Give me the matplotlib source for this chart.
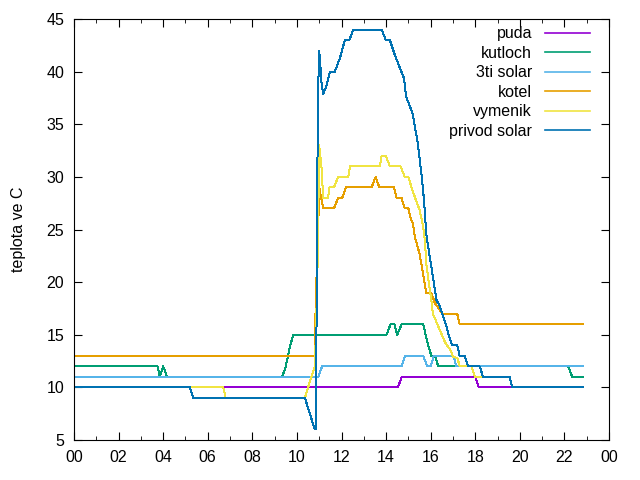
import matplotlib
matplotlib.use("Agg")
import matplotlib.pyplot as plt
from matplotlib.ticker import MultipleLocator, FuncFormatter

plt.rcParams['font.family'] = ['Liberation Sans', 'DejaVu Sans']
plt.rcParams['font.size'] = 11.5

# cas v hodinach, teplota ve C
puda_t = [0, 14.53, 14.7, 18.0, 18.16, 22.84]
puda_v = [10, 10, 11, 11, 10, 10]

kutloch_t = [0, 3.75, 3.85, 4.0, 4.18, 9.34, 9.5, 9.6, 9.7, 9.84, 14.02, 14.2,
             14.37, 14.5, 14.7, 15.67, 15.77, 15.89, 16.03, 16.19, 16.34, 22.17,
             22.35, 22.84]
kutloch_v = [12, 12, 11, 12, 11, 11, 12, 13, 14, 15, 15, 16,
             16, 15, 16, 16, 15, 14, 13, 13, 12, 12,
             11, 11]

solar3_t = [0, 10.96, 11.13, 14.7, 14.85, 15.67, 15.84, 16.0, 16.14, 17.02,
            17.15, 22.84]
solar3_v = [11, 11, 12, 12, 13, 13, 12, 12, 13, 13,
            12, 12]

kotel_t = [0, 10.8, 10.85, 10.93, 11.0, 11.18, 11.66, 11.85, 12.03, 12.2,
           13.35, 13.53, 13.7, 14.36, 14.47, 14.69, 14.84, 15.0, 15.11, 15.2,
           15.3, 15.37, 15.5, 15.66, 15.8, 16.03, 16.19, 16.53, 17.19, 17.3,
           22.84]
kotel_v = [13, 13, 19, 23, 29, 27, 27, 28, 28, 29,
           29, 30, 29, 29, 28, 28, 27, 27, 26, 25.6,
           24.2, 23.7, 22.7, 20.8, 19, 19, 18, 17, 17, 16,
           16]

vymenik_t = [0, 6.7, 6.8, 10.36, 10.5, 10.65, 10.8, 10.85, 10.93, 11.0,
             11.05, 11.1, 11.18, 11.4, 11.45, 11.66, 11.85, 12.3, 12.38, 13.72,
             13.8, 13.99, 14.17, 14.65, 14.84, 15.0, 15.14, 15.37, 15.5, 15.66,
             15.74, 15.8, 15.9, 16.03, 16.1, 16.34, 16.64, 16.9, 17.0, 17.2,
             17.3, 17.83, 17.98, 18.28, 19.55, 19.65, 22.84]
vymenik_v = [10, 10, 9, 9, 10, 11, 12, 15, 22, 33,
             32, 31, 28, 28, 29, 29, 30, 30, 31, 31,
             32, 32, 31, 31, 30, 30, 29, 27.6, 26.9, 25.3,
             24, 21.8, 20.2, 18.3, 17, 15.8, 14.3, 13.5, 12.9, 12.8,
             12, 12, 11, 11, 11, 10, 10]

privod_t = [0, 5.2, 5.35, 10.36, 10.8, 10.86, 10.9, 10.95, 10.99, 11.03,
            11.1, 11.18, 11.3, 11.48, 11.7, 11.93, 12.15, 12.35, 12.53, 13.8,
            13.99, 14.17, 14.39, 14.59, 14.8, 14.9, 15.07, 15.19, 15.29, 15.4,
            15.48, 15.6, 15.7, 15.8, 15.96, 16.1, 16.26, 16.41, 16.56, 16.71,
            16.83, 16.97, 17.19, 17.3, 17.53, 17.68, 18.2, 18.35, 19.55, 19.65,
            22.84]
privod_v = [10, 10, 9, 9, 6, 6, 27, 37.5, 42, 41.3,
            39, 37.9, 38.5, 40, 40, 41.3, 43, 43, 44, 44,
            43, 43, 41.6, 40.5, 39.4, 37.6, 36.7, 36, 34.8, 33.5,
            32.2, 30, 27.8, 24.6, 22.4, 20.5, 18.3, 17.7, 16.7, 15.8,
            14.8, 14, 14, 13, 13, 12, 12, 11, 11, 10,
            10]

fig = plt.figure(figsize=(6.4, 4.8), dpi=100)
ax = fig.add_axes([0.1156, 0.0833, 0.836, 0.877])

lw = 0.72
series = [
    (puda_t, puda_v, '#9400d3', 'puda'),
    (kutloch_t, kutloch_v, '#009e73', 'kutloch'),
    (solar3_t, solar3_v, '#56b4e9', '3ti solar'),
    (kotel_t, kotel_v, '#e69f00', 'kotel'),
    (vymenik_t, vymenik_v, '#f0e442', 'vymenik'),
    (privod_t, privod_v, '#0072b2', 'privod solar'),
]
for t, v, c, name in series:
    ax.plot(t, v, color=c, lw=lw, label=name, antialiased=False)

ax.set_xlim(0, 24)
ax.set_ylim(5, 45)
ax.xaxis.set_major_locator(MultipleLocator(2))
ax.xaxis.set_minor_locator(MultipleLocator(1))
ax.yaxis.set_major_locator(MultipleLocator(5))
ax.xaxis.set_major_formatter(FuncFormatter(lambda v, p: '%02d' % (int(round(v)) % 24)))
ax.tick_params(which='both', direction='in', top=True, right=True, labelsize=11.5)
ax.tick_params(which='major', length=6, pad=7)
ax.tick_params(which='minor', length=3)
ax.set_ylabel('teplota ve C', labelpad=15)

leg = ax.legend(loc='upper right', bbox_to_anchor=(0.9645, 0.983),
                frameon=False, markerfirst=False,
                handlelength=2.8, handletextpad=0.83, labelspacing=0.28,
                borderaxespad=0, borderpad=0, fontsize=11.5)
for h in leg.legend_handles:
    h.set_antialiased(True)
    h.set_linewidth(1.2)
try:
    leg._legend_handle_box.get_children()[0].align = 'right'
except Exception:
    pass

fig.savefig('out.png', dpi=100)
